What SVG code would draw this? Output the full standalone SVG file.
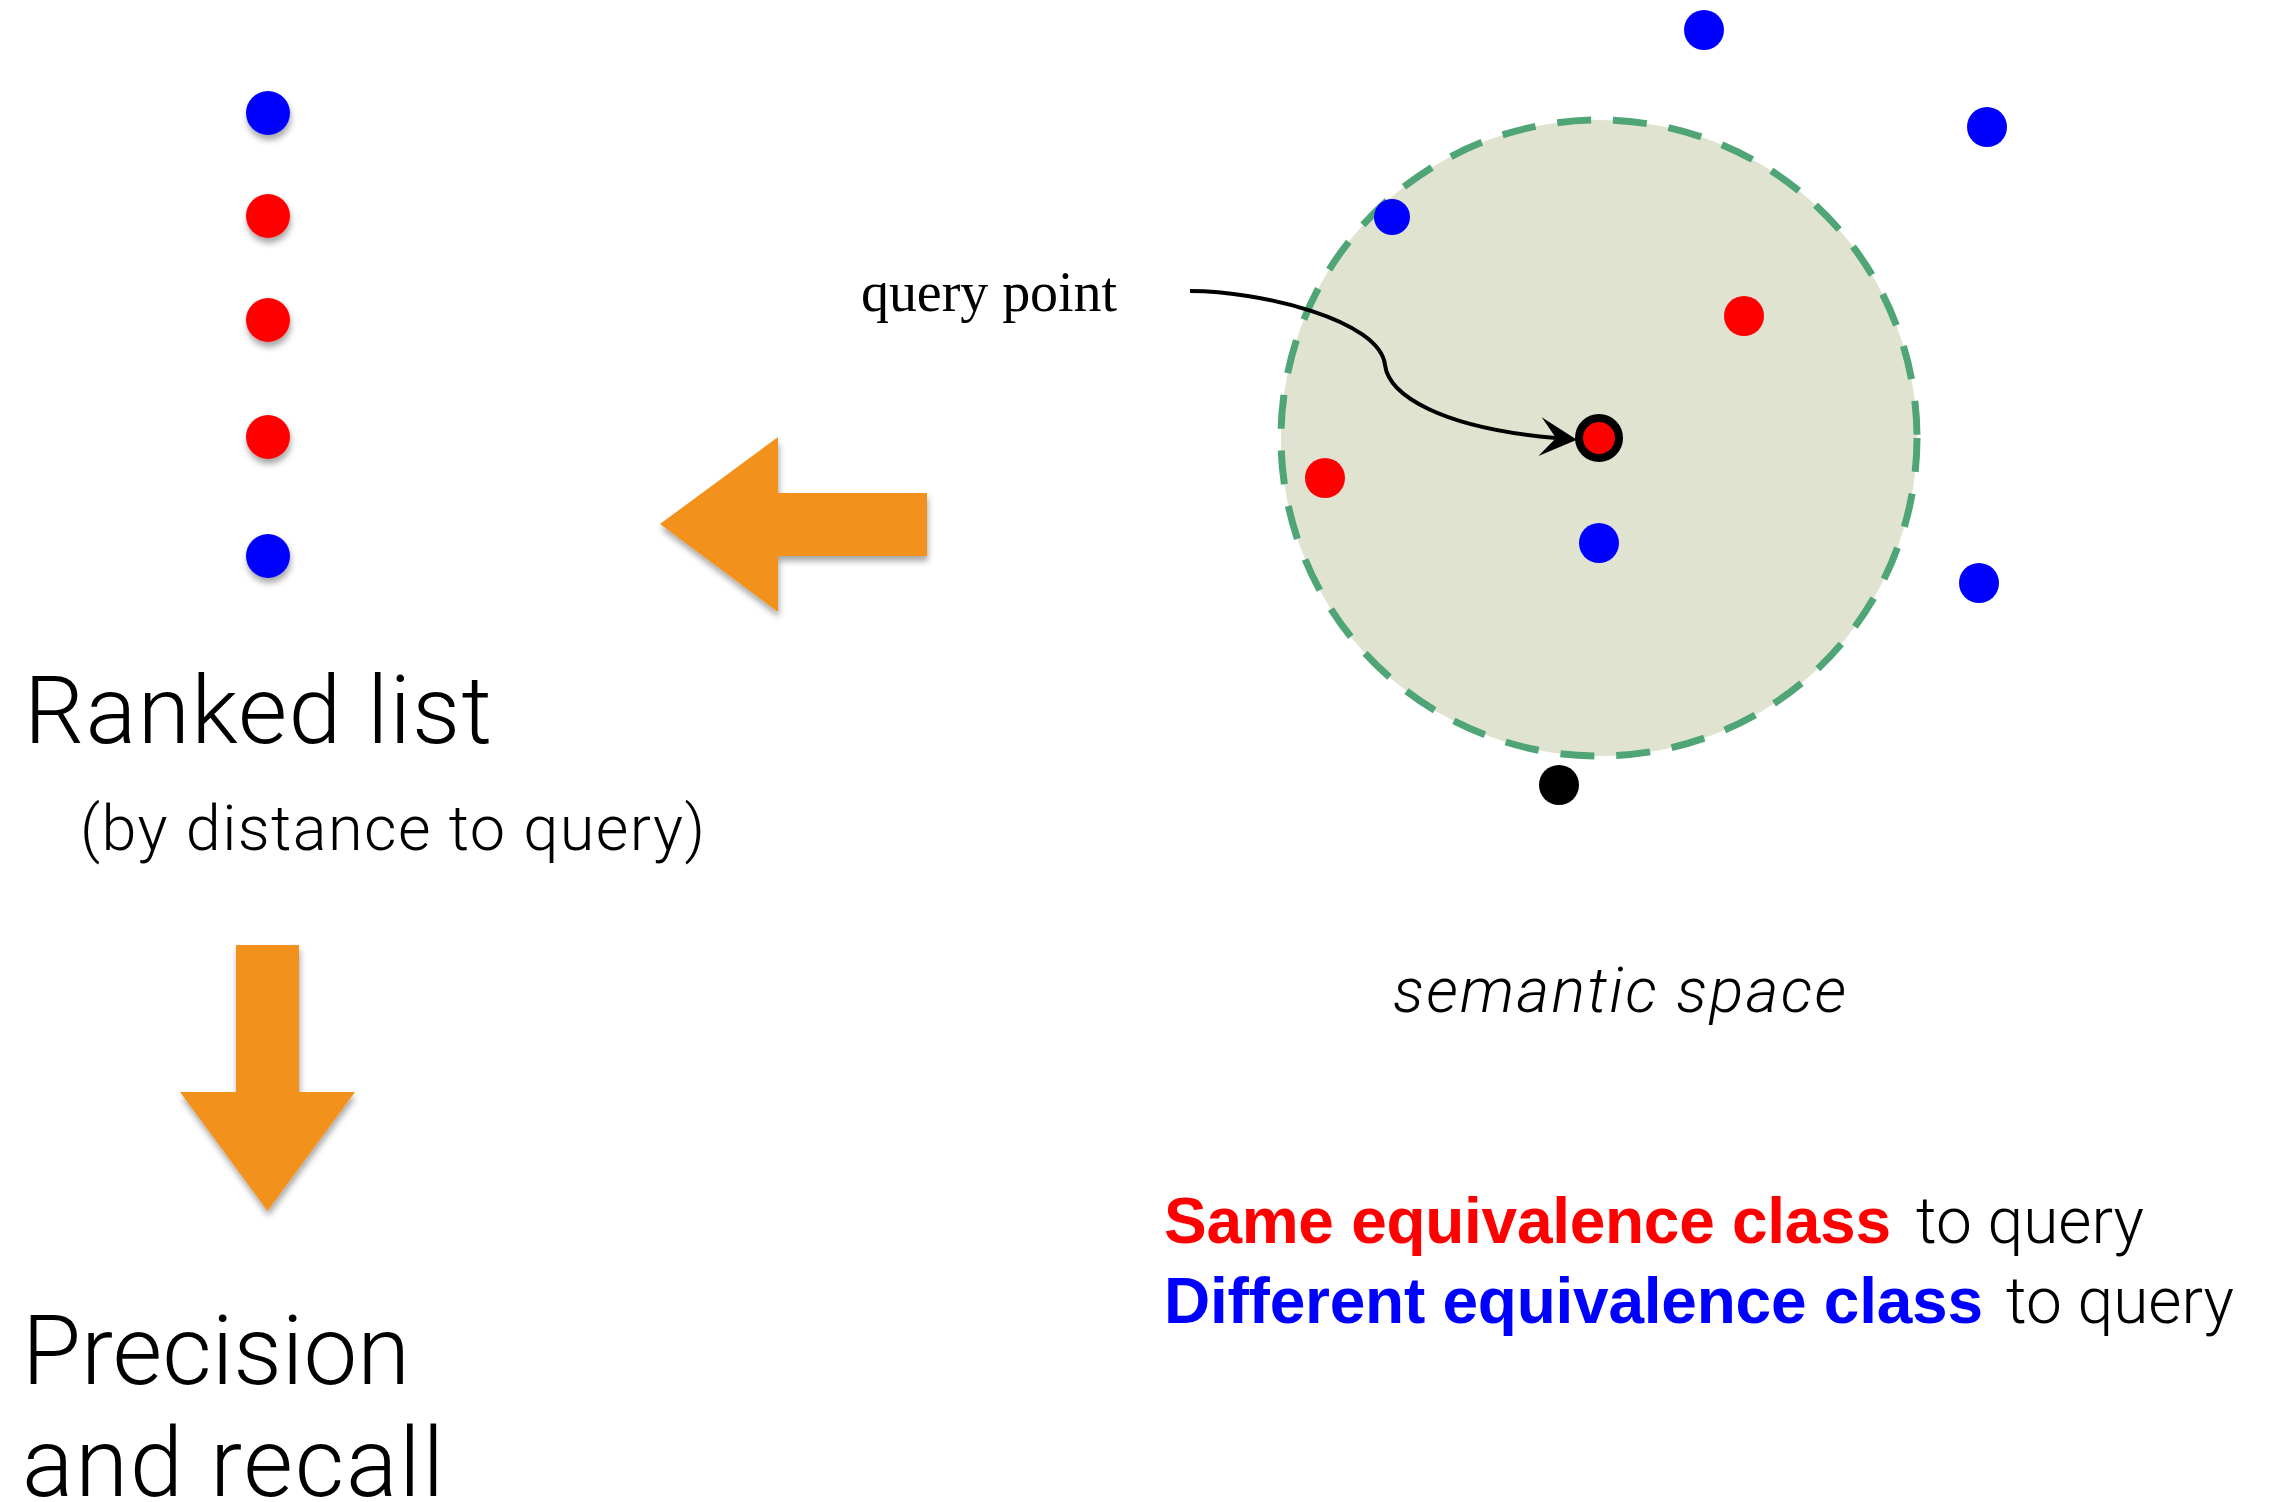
<svg xmlns="http://www.w3.org/2000/svg" width="2274" height="1502" viewBox="0 0 2274 1502">
  <defs>
    <style>
      .red { fill: #FF0000; }
      .blue { fill: #0000FF; }
      .black { fill: #000000; }
      .orange { fill: #F2921C; }
      .light { font-family: Roboto, "Liberation Sans", Arial, sans-serif; font-weight: 300; fill: #000; }
      .bold { font-family: "Liberation Sans", Arial, sans-serif; font-weight: bold; }
      .serif { font-family: "Liberation Serif", "Times New Roman", serif; fill: #000; }
      .conn { fill: none; stroke: #000; stroke-width: 4; }
    </style>
    <filter id="shadow" x="-30%" y="-30%" width="160%" height="170%">
      <feDropShadow dx="1" dy="5" stdDeviation="3" flood-color="#000" flood-opacity="0.35"/>
    </filter>
    <marker id="stealth" markerUnits="userSpaceOnUse" markerWidth="40" markerHeight="40" refX="16" refY="19.5" orient="auto" viewBox="0 0 40 40">
      <path d="M0,0 L37,19.5 L0,39 L16,19.5 Z" fill="#000"/>
    </marker>
  </defs>
  <rect width="2274" height="1502" fill="#FFFFFF"/>

  <g id="semantic-space">
    <circle cx="1599" cy="438" r="318" fill="#E0E3D0" stroke="#4FA576" stroke-width="7" stroke-dasharray="34 22"/>
  </g>

  <g id="ranked-list">
    <circle class="blue" cx="268" cy="113" r="22" filter="url(#shadow)"/>
    <circle class="red" cx="268" cy="216" r="22" filter="url(#shadow)"/>
    <circle class="red" cx="268" cy="320" r="22" filter="url(#shadow)"/>
    <circle class="red" cx="268" cy="437" r="22" filter="url(#shadow)"/>
    <circle class="blue" cx="268" cy="556" r="22" filter="url(#shadow)"/>
  </g>

  <g id="points">
    <circle class="blue" cx="1704" cy="30" r="20"/>
    <circle class="blue" cx="1987" cy="127" r="20"/>
    <circle class="blue" cx="1392" cy="217" r="18"/>
    <circle class="red" cx="1744" cy="316" r="20"/>
    <circle class="red" cx="1325" cy="478" r="20"/>
    <circle class="blue" cx="1599" cy="543" r="20"/>
    <circle class="blue" cx="1979" cy="583" r="20"/>
    <circle class="black" cx="1559" cy="785" r="20"/>
  </g>

  <g id="query-point">
    <circle cx="1599" cy="438" r="20" fill="#FF0000" stroke="#000" stroke-width="8"/>
  </g>

  <g id="connectors">
    <path class="conn" d="M1190,291 C1260,291 1380,320 1385,365 C1389,395 1440,428 1556,438" marker-end="url(#stealth)"/>
  </g>

  <g id="arrow-left">
    <path class="orange" d="M660,524 L778,437 L778,493 L927,493 L927,556 L778,556 L778,612 Z" filter="url(#shadow)"/>
  </g>

  <g id="arrow-down">
    <path class="orange" d="M236,945 L299,945 L299,1092 L355,1092 L267.5,1211 L180,1092 L236,1092 Z" filter="url(#shadow)"/>
  </g>

  <g id="labels">
    <text class="serif" x="861" y="311" font-size="56" textLength="256">query point</text>
    <text class="light" x="24" y="743" font-size="95" textLength="468">Ranked list</text>
    <text class="light" x="80" y="850" font-size="63" textLength="625">(by distance to query)</text>
    <text class="light" x="22" y="1384" font-size="96" textLength="388">Precision</text>
    <text class="light" x="22" y="1496" font-size="96" textLength="422">and recall</text>
    <text class="light" x="1393" y="1012" font-size="63" font-style="italic" textLength="453">semantic space</text>
  </g>

  <g id="legend">
    <text font-size="64" y="1243"><tspan class="bold" x="1164" fill="#FF0000" textLength="727">Same equivalence class</tspan><tspan class="light" x="1916" textLength="228">to query</tspan></text>
    <text font-size="64" y="1323"><tspan class="bold" x="1164" fill="#0000FF" textLength="819">Different equivalence class</tspan><tspan class="light" x="2006" textLength="228">to query</tspan></text>
  </g>
</svg>
